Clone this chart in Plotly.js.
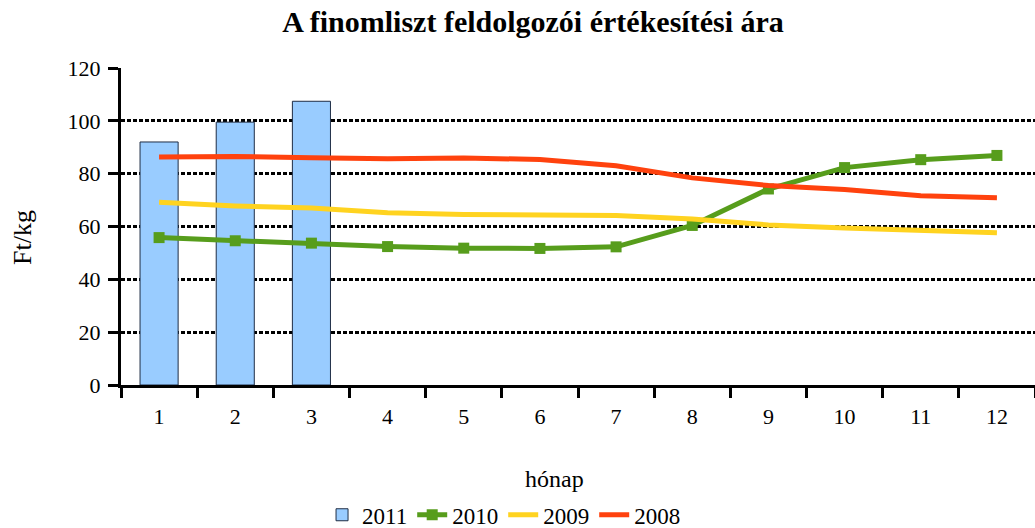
<!DOCTYPE html>
<html>
<head>
<meta charset="utf-8">
<script src="https://cdn.plot.ly/plotly-3.0.1.min.js"></script>
<style>html,body{margin:0;padding:0;background:#fff;}#chart{width:1035px;height:528px;}</style>
</head>
<body>
<div id="chart"></div>
<script>
const months = ['1','2','3','4','5','6','7','8','9','10','11','12'];
const months2011 = ['1','2','3'];
const values2011 = [92.0, 99.5, 107.4];
const values2010 = [55.8, 54.6, 53.7, 52.4, 51.8, 51.7, 52.3, 60.4, 74.2, 82.3, 85.3, 86.9];
const values2009 = [69.2, 67.8, 67.0, 65.2, 64.5, 64.5, 64.2, 62.8, 60.6, 59.4, 58.6, 57.6];
const values2008 = [86.3, 86.5, 86.0, 85.6, 85.9, 85.4, 83.0, 78.4, 75.5, 74.0, 71.6, 70.9];
const yTicks = [0, 20, 40, 60, 80, 100, 120];

const serif = '"Liberation Serif", "DejaVu Serif", serif';

const traces = [
  {type:'bar', name:'2011', x:months2011, y:values2011,
   marker:{color:'#99ccff', line:{color:'#1f2d45', width:1}}},
  {type:'scatter', mode:'lines+markers', name:'2010', x:months, y:values2010,
   line:{color:'#579d1c', width:5}, marker:{symbol:'square', size:11, color:'#579d1c'}},
  {type:'scatter', mode:'lines', name:'2009', x:months, y:values2009,
   line:{color:'#ffd320', width:5}},
  {type:'scatter', mode:'lines', name:'2008', x:months, y:values2008,
   line:{color:'#ff420e', width:5}}
];

const layout = {
  width:1035, height:528,
  margin:{l:121, r:0, t:68, b:143, autoexpand:false},
  paper_bgcolor:'#fff', plot_bgcolor:'#fff',
  font:{family:serif, color:'#000', size:22},
  title:{text:'<b>A finomliszt feldolgozói értékesítési ára</b>', font:{size:30, family:serif},
         xref:'container', x:0.515, xanchor:'center', yref:'container', y:0.96, yanchor:'middle'},
  bargap:0.5,
  showlegend:true,
  legend:{orientation:'h', xref:'container', x:0.487, xanchor:'center',
          yref:'container', y:0.025, yanchor:'middle',
          font:{size:23, family:serif}, traceorder:'normal', itemwidth:30,
          tracegroupgap:0},
  xaxis:{type:'category', categoryorder:'array', categoryarray:months,
         range:[-0.5, 11.5], showgrid:false, zeroline:false,
         showline:true, linecolor:'#000', linewidth:3,
         ticks:'outside', ticklen:10, tickwidth:3, tickcolor:'#000', tickson:'boundaries',
         ticklabelstandoff:10,
         tickfont:{size:22, family:serif}},
  yaxis:{range:[0,120], tickvals:yTicks, ticktext:yTicks.map(String),
         showgrid:true, gridcolor:'#000', gridwidth:3, griddash:'3.5px,2.5px',
         zeroline:false, showline:true, linecolor:'#000', linewidth:3,
         ticks:'outside', ticklen:10, tickwidth:3, tickcolor:'#000',
         ticklabelstandoff:3,
         tickfont:{size:22, family:serif}},
  annotations:[
    {text:'hónap', xref:'paper', x:(554-121)/914, xanchor:'center',
     yref:'paper', y:(385-479)/317, yanchor:'middle', showarrow:false,
     font:{size:24, family:serif}},
    {text:'Ft/kg', xref:'paper', x:(22-121)/914, xanchor:'center',
     yref:'paper', y:(385-238)/317, yanchor:'middle', showarrow:false, textangle:-90,
     font:{size:26, family:serif}}
  ]
};

Plotly.newPlot('chart', traces, layout, {displayModeBar:false, staticPlot:true});
</script>
</body>
</html>
